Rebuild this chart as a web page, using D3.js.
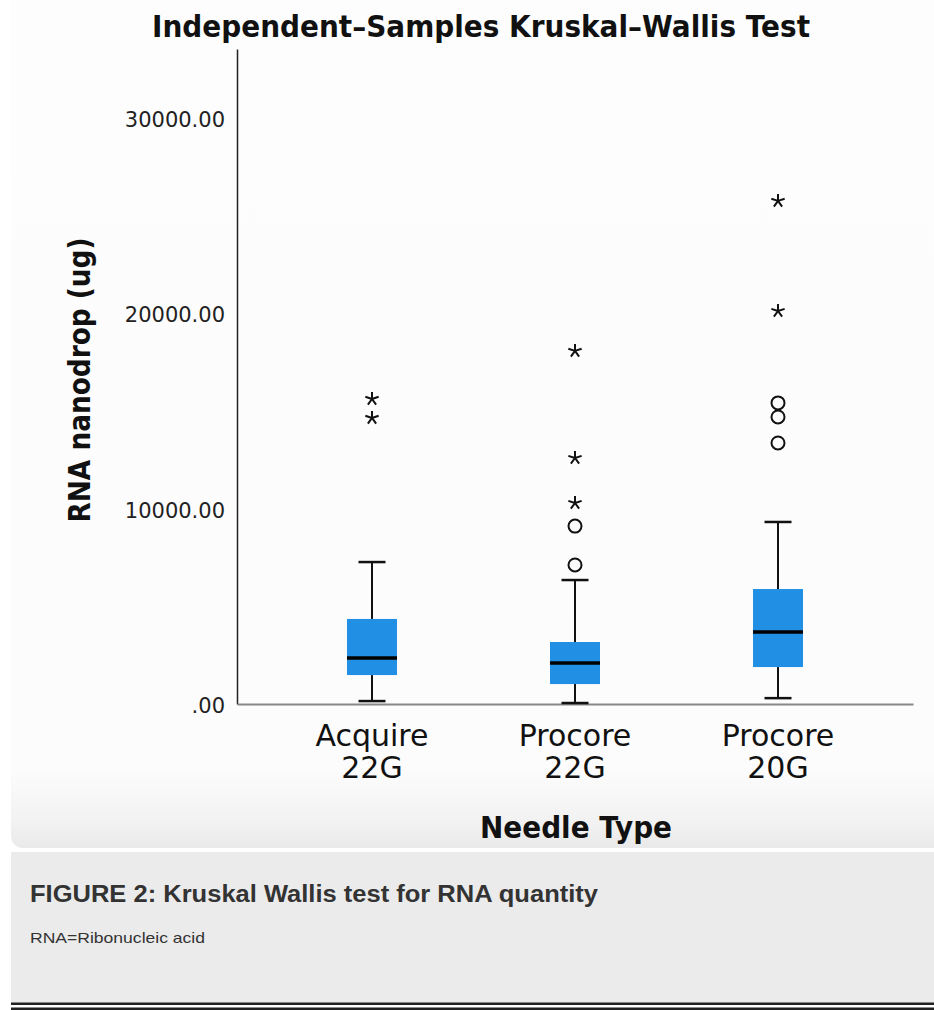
<!DOCTYPE html>
<html>
<head>
<meta charset="utf-8">
<script src="https://cdn.jsdelivr.net/npm/d3@7"></script>
<style>
  html, body { margin: 0; padding: 0; background: #ffffff; }
  svg { display: block; }
</style>
</head>
<body>
<svg id="chart" width="934" height="1010"></svg>
<script>
// ---- data ----
const categories = ["Acquire 22G", "Procore 22G", "Procore 20G"];
const labelLine1 = ["Acquire", "Procore", "Procore"];
const labelLine2 = ["22G", "22G", "20G"];
const lowerWhisker = [150, 50, 300];
const q1 = [1480, 1020, 1890];
const median = [2350, 2100, 3680];
const q3 = [4350, 3170, 5880];
const upperWhisker = [7260, 6340, 9310];
const outlierCircles = [[], [9100, 7110], [15400, 14680, 13350]];
const outlierStars = [[15600, 14630], [18060, 12580, 10280], [25730, 20100]];
const yTicks = [0, 10000, 20000, 30000];

const titleText = "Independent–Samples Kruskal–Wallis Test";
const yTitle = "RNA nanodrop (ug)";
const xTitle = "Needle Type";
const captionTitle = "FIGURE 2: Kruskal Wallis test for RNA quantity";
const captionNote = "RNA=Ribonucleic acid";

// ---- drawing ----
const svg = d3.select("#chart");
const defs = svg.append("defs");
const grad = defs.append("linearGradient").attr("id", "shade")
  .attr("x1", 0).attr("y1", 0).attr("x2", 0).attr("y2", 1);
grad.append("stop").attr("offset", "0%").attr("stop-color", "#fdfdfd");
grad.append("stop").attr("offset", "91%").attr("stop-color", "#fcfcfc");
grad.append("stop").attr("offset", "97%").attr("stop-color", "#f2f2f2");
grad.append("stop").attr("offset", "100%").attr("stop-color", "#e9e9e9");

// chart panel
svg.append("rect").attr("x", 11).attr("y", -20).attr("width", 940).attr("height", 868)
  .attr("rx", 12).attr("fill", "url(#shade)");

// caption panel
svg.append("rect").attr("x", 11).attr("y", 852).attr("width", 923).attr("height", 151).attr("fill", "#ebebeb");
svg.append("rect").attr("x", 11).attr("y", 1002.5).attr("width", 923).attr("height", 2.5).attr("fill", "#222");
svg.append("rect").attr("x", 11).attr("y", 1007.5).attr("width", 923).attr("height", 2.5).attr("fill", "#222");

svg.append("text").attr("x", 30).attr("y", 902)
  .attr("font-family", "Liberation Sans, Arial, sans-serif").attr("font-weight", "bold")
  .attr("font-size", 23).attr("fill", "#333")
  .attr("textLength", 568).attr("lengthAdjust", "spacingAndGlyphs")
  .text(captionTitle);
svg.append("text").attr("x", 30).attr("y", 943)
  .attr("font-family", "Liberation Sans, Arial, sans-serif")
  .attr("font-size", 15).attr("fill", "#333")
  .attr("textLength", 175).attr("lengthAdjust", "spacingAndGlyphs")
  .text(captionNote);

// scales
const x = d3.scalePoint().domain(categories).range([237, 913]).padding(0.665);
const y = d3.scaleLinear().domain([0, 33500]).range([704, 49]);

// title
svg.append("text").attr("x", 481).attr("y", 37).attr("text-anchor", "middle")
  .attr("font-family", "DejaVu Sans, sans-serif").attr("font-weight", "bold")
  .attr("font-size", 30).attr("fill", "#111")
  .attr("textLength", 658).attr("lengthAdjust", "spacingAndGlyphs")
  .text(titleText);

// y axis
const fmt = v => v === 0 ? ".00" : d3.format(".2f")(v);
const yAxis = svg.append("g").attr("transform", "translate(237,0)")
  .call(d3.axisLeft(y).tickValues(yTicks).tickFormat(fmt).tickSize(0).tickSizeOuter(0).tickPadding(12));
yAxis.select(".domain").attr("stroke", "#222").attr("stroke-width", 1.5);
yAxis.selectAll("text").attr("font-family", "DejaVu Sans, sans-serif").attr("font-size", 21).attr("fill", "#222")
  .attr("dy", "0.42em");

// x axis
const xAxis = svg.append("g").attr("transform", "translate(0,704)")
  .call(d3.axisBottom(x).tickSize(0).tickSizeOuter(0).tickFormat(""));
xAxis.select(".domain").attr("stroke", "#888").attr("stroke-width", 2);

// x labels
const xl = svg.append("g").attr("font-family", "DejaVu Sans, sans-serif").attr("font-size", 30).attr("fill", "#111")
  .attr("text-anchor", "middle");
categories.forEach((c, i) => {
  xl.append("text").attr("x", x(c)).attr("y", 746).text(labelLine1[i]);
  xl.append("text").attr("x", x(c)).attr("y", 778).text(labelLine2[i]);
});

// axis titles
svg.append("text").attr("x", 576).attr("y", 838).attr("text-anchor", "middle")
  .attr("font-family", "DejaVu Sans, sans-serif").attr("font-weight", "bold")
  .attr("font-size", 31).attr("fill", "#111")
  .attr("textLength", 192).attr("lengthAdjust", "spacingAndGlyphs")
  .text(xTitle);
svg.append("text").attr("transform", "translate(90,380) rotate(-90)").attr("text-anchor", "middle")
  .attr("font-family", "DejaVu Sans, sans-serif").attr("font-weight", "bold")
  .attr("font-size", 30).attr("fill", "#111")
  .attr("textLength", 285).attr("lengthAdjust", "spacingAndGlyphs")
  .text(yTitle);

// boxes
const boxW = 50, capW = 27;
const g = svg.append("g");
categories.forEach((c, i) => {
  const cx = x(c);
  // whiskers
  g.append("line").attr("x1", cx).attr("x2", cx).attr("y1", y(upperWhisker[i])).attr("y2", y(q3[i]))
    .attr("stroke", "#111").attr("stroke-width", 2);
  g.append("line").attr("x1", cx).attr("x2", cx).attr("y1", y(q1[i])).attr("y2", y(lowerWhisker[i]))
    .attr("stroke", "#111").attr("stroke-width", 2);
  g.append("line").attr("x1", cx - capW / 2).attr("x2", cx + capW / 2)
    .attr("y1", y(upperWhisker[i])).attr("y2", y(upperWhisker[i])).attr("stroke", "#111").attr("stroke-width", 2.5);
  g.append("line").attr("x1", cx - capW / 2).attr("x2", cx + capW / 2)
    .attr("y1", y(lowerWhisker[i])).attr("y2", y(lowerWhisker[i])).attr("stroke", "#111").attr("stroke-width", 2.5);
  // box
  g.append("rect").attr("x", cx - boxW / 2).attr("width", boxW)
    .attr("y", y(q3[i])).attr("height", y(q1[i]) - y(q3[i])).attr("fill", "#208fe4");
  g.append("line").attr("x1", cx - boxW / 2).attr("x2", cx + boxW / 2)
    .attr("y1", y(median[i])).attr("y2", y(median[i])).attr("stroke", "#000").attr("stroke-width", 3.5);
  // outliers
  outlierCircles[i].forEach(v => {
    g.append("circle").attr("cx", cx).attr("cy", y(v)).attr("r", 6.5)
      .attr("fill", "none").attr("stroke", "#111").attr("stroke-width", 2);
  });
  outlierStars[i].forEach(v => {
    const p = d3.path();
    const r = 7;
    for (let k = 0; k < 5; k++) {
      const a = -Math.PI / 2 + k * 2 * Math.PI / 5;
      p.moveTo(cx, y(v));
      p.lineTo(cx + r * Math.cos(a), y(v) + r * Math.sin(a));
    }
    g.append("path").attr("d", p.toString()).attr("stroke", "#111").attr("stroke-width", 2).attr("fill", "none");
  });
});
</script>
</body>
</html>
